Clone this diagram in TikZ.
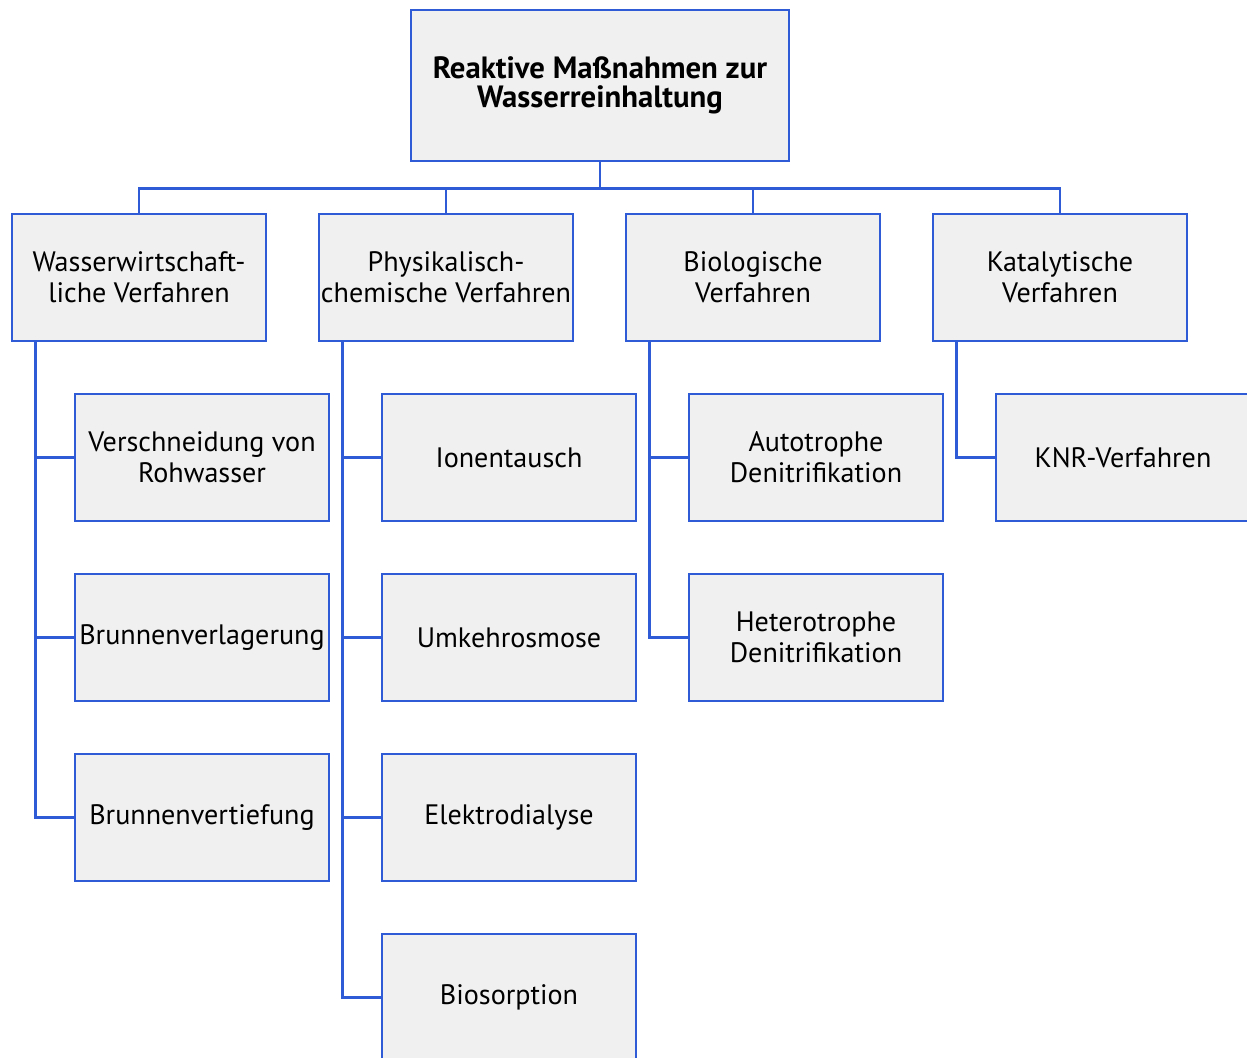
\documentclass[tikz,border=0pt]{standalone}
\usepackage{fontspec}
\setmainfont{PT Sans}
\definecolor{linie}{HTML}{2F5BD6}
\definecolor{kasten}{HTML}{F0F0F0}
\tikzset{
	box/.style={draw=linie, fill=kasten, line width=1.5pt, minimum width=5.08cm, minimum height=2.54cm, align=center, font=\fontsize{16}{17.6}\selectfont, inner sep=0pt},
	topbox/.style={box, minimum width=7.56cm, minimum height=3.02cm, font=\fontsize{17.5}{16.4}\selectfont\bfseries},
	verb/.style={draw=linie, line width=1.5pt}
}
\begin{document}
\begin{tikzpicture}
		\useasboundingbox (0,0) rectangle (24.94,-21.16);
		
		\node[topbox] (top) at (12.0,-1.71) {Reaktive Maßnahmen zur\\Wasserreinhaltung};
		
		\node[box] (ww) at (2.78,-5.55) {Wasserwirtschaft-\\liche Verfahren};
		\node[box] (pc) at (8.92,-5.55) {Physikalisch-\\chemische Verfahren};
		\node[box] (bio) at (15.06,-5.55) {Biologische\\Verfahren};
		\node[box] (kat) at (21.2,-5.55) {Katalytische\\Verfahren};
		
		\node[box] (ww1) at (4.04,-9.15) {Verschneidung von\\Rohwasser};
		\node[box] (ww2) at (4.04,-12.75) {Brunnenverlagerung};
		\node[box] (ww3) at (4.04,-16.35) {Brunnenvertiefung};
		
		\node[box] (pc1) at (10.18,-9.15) {Ionentausch};
		\node[box] (pc2) at (10.18,-12.75) {Umkehrosmose};
		\node[box] (pc3) at (10.18,-16.35) {Elektrodialyse};
		\node[box] (pc4) at (10.18,-19.95) {Biosorption};
		
		\node[box] (bio1) at (16.32,-9.15) {Autotrophe\\Denitrifikation};
		\node[box] (bio2) at (16.32,-12.75) {Heterotrophe\\Denitrifikation};
		
		\node[box] (kat1) at (22.46,-9.15) {KNR-Verfahren};
		
		% obere Ebene
		\foreach \n in {ww,pc,bio,kat}
			\draw[verb] (top.south) -- ++(0,-0.52) -| (\n.north);
		
		% untere Ebene
		\foreach \p/\c in {ww/ww1,ww/ww2,ww/ww3,pc/pc1,pc/pc2,pc/pc3,pc/pc4,bio/bio1,bio/bio2,kat/kat1}
			\draw[verb] ([xshift=0.5cm]\p.south west) |- (\c.west);
	\end{tikzpicture}
\end{document}
